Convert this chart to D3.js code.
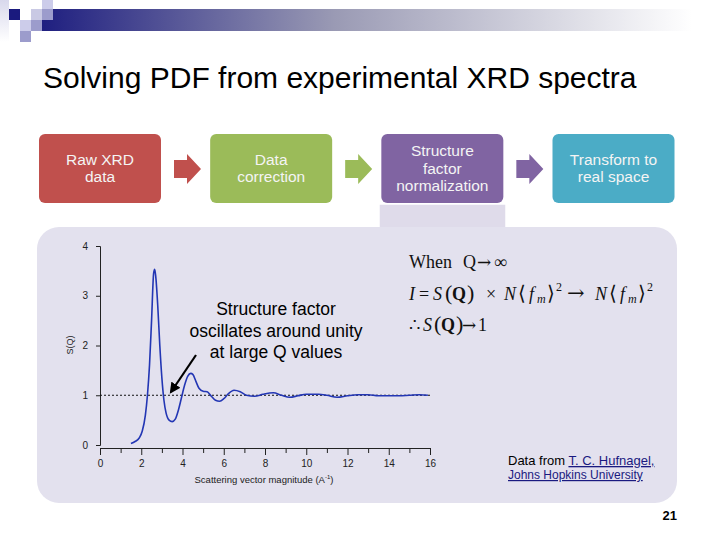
<!DOCTYPE html>
<html>
<head>
<meta charset="utf-8">
<script src="https://cdn.jsdelivr.net/npm/d3@7"></script>
<style>
  body { margin: 0; background: #fff; }
  text { font-family: Arial, "Liberation Sans", sans-serif; }
  text.serif { font-family: "Times New Roman", "Liberation Serif", serif; }
  tspan.arrow { font-family: "DejaVu Serif", serif; }
</style>
</head>
<body>
<div id="slide"></div>
<script>
// chart data
var qValues = [1.5, 1.7, 1.9, 2.05, 2.2, 2.3, 2.4, 2.5, 2.6, 2.65, 2.7, 2.8, 2.9, 3.0, 3.1, 3.2, 3.35, 3.5, 3.65, 3.8, 3.95, 4.1, 4.25, 4.4, 4.5, 4.65, 4.8, 5.0, 5.2, 5.4, 5.6, 5.8, 6.0, 6.2, 6.5, 6.8, 7.1, 7.5, 7.9, 8.4, 8.8, 9.2, 9.6, 10.0, 10.6, 11.0, 11.5, 12.0, 12.5, 13.0, 13.5, 14.0, 14.5, 15.0, 15.5, 15.9];
var sValues = [0.03, 0.07, 0.14, 0.28, 0.6, 1.0, 1.6, 2.5, 3.45, 3.53, 3.4, 2.8, 2.0, 1.35, 0.9, 0.65, 0.5, 0.47, 0.52, 0.7, 0.95, 1.2, 1.38, 1.44, 1.42, 1.28, 1.14, 1.08, 1.07, 0.98, 0.9, 0.88, 0.93, 1.02, 1.1, 1.07, 1.0, 0.98, 1.02, 1.05, 1.0, 0.96, 0.99, 1.02, 1.02, 1.0, 0.96, 0.99, 1.01, 1.01, 0.99, 0.99, 0.99, 1.0, 1.01, 1.0];
var xTicks = [0, 2, 4, 6, 8, 10, 12, 14, 16];
var yTicks = [0, 1, 2, 3, 4];

// flow boxes
var steps = [["Raw XRD", "data"], ["Data", "correction"], ["Structure", "factor", "normalization"], ["Transform to", "real space"]];
var stepColors = ["#c0504d", "#9bbb59", "#8064a2", "#4bacc6"];

var width = 720;
var height = 540;

var svg = d3.select("#slide")
  .append("svg")
  .attr("width", width)
  .attr("height", height);

var defs = svg.append("defs");
var grad = defs.append("linearGradient").attr("id", "barGrad");
grad.append("stop").attr("offset", "0%").attr("stop-color", "#1f1f80");
grad.append("stop").attr("offset", "45%").attr("stop-color", "#9a9ab4");
grad.append("stop").attr("offset", "100%").attr("stop-color", "#ffffff");

var fade = defs.append("linearGradient").attr("id", "fadeGrad")
  .attr("x1", 0).attr("x2", 0).attr("y1", 0).attr("y2", 1);
fade.append("stop").attr("offset", "0%").attr("stop-color", "#d8d8ec");
fade.append("stop").attr("offset", "100%").attr("stop-color", "#ffffff");

defs.append("marker")
  .attr("id", "head")
  .attr("viewBox", "0 0 10 10")
  .attr("refX", 8).attr("refY", 5)
  .attr("markerWidth", 5).attr("markerHeight", 5)
  .attr("orient", "auto")
  .append("path").attr("d", "M0,0 L10,5 L0,10 z").attr("fill", "#000");

// top decoration
svg.append("rect").attr("x", 42).attr("y", 9).attr("width", 650).attr("height", 22).attr("fill", "url(#barGrad)");
svg.append("rect").attr("x", 0).attr("y", 0).attr("width", 9).attr("height", 42).attr("fill", "url(#fadeGrad)");
var squares = [
  [9, 9, "#1a1a7e"], [31, 9, "#c9c9e4"], [42, 0, "#ccccea"], [42, 9, "#9c9ccc"],
  [20, 20, "#ccccea"], [31, 20, "#9c9ccc"], [20, 31, "#9c9ccc"]
];
svg.selectAll(".sq").data(squares).enter().append("rect")
  .attr("x", function(d) { return d[0]; })
  .attr("y", function(d) { return d[1]; })
  .attr("width", 11).attr("height", 11)
  .attr("fill", function(d) { return d[2]; });

// title
svg.append("text")
  .attr("x", 43).attr("y", 88)
  .attr("font-size", 30)
  .attr("fill", "#000")
  .text("Solving PDF from experimental XRD spectra");

// panel behind the chart
svg.append("rect").attr("x", 379).attr("y", 204).attr("width", 127).attr("height", 40)
  .attr("fill", "#dfdbea").attr("stroke", "#fff").attr("stroke-width", 1.5);
svg.append("rect").attr("x", 37).attr("y", 227).attr("width", 640).attr("height", 276)
  .attr("rx", 22).attr("fill", "#e3e1ee");

// flow boxes and arrows
var boxX = d3.scalePoint().domain(d3.range(steps.length)).range([100, 613.5]);
var boxW = 122;
steps.forEach(function(lines, i) {
  var cx = boxX(i);
  svg.append("rect")
    .attr("x", cx - boxW / 2).attr("y", 134)
    .attr("width", boxW).attr("height", 69)
    .attr("rx", 6)
    .attr("fill", stepColors[i]);
  var t = svg.append("text")
    .attr("text-anchor", "middle")
    .attr("font-size", 15.5)
    .attr("fill", "#f4f4f4");
  var y0 = 168.5 - (lines.length - 1) * 17.5 / 2 + 5;
  lines.forEach(function(l, j) {
    t.append("tspan").attr("x", cx).attr("y", y0 + j * 17.5).text(l);
  });
  if (i < steps.length - 1) {
    var ax = cx + boxW / 2 + 13;
    svg.append("path")
      .attr("d", "M" + ax + ",160 h13 v-6 l14,15 l-14,15 v-6 h-13 z")
      .attr("fill", stepColors[i]);
  }
});

// chart scales
var xScale = d3.scaleLinear().domain([0, 16]).range([100, 430]);
var yScale = d3.scaleLinear().domain([0, 4]).range([445, 246]);

// axes
var xAxis = d3.axisBottom(xScale).tickValues(d3.range(0, 17, 1)).tickSize(5)
  .tickFormat(function(d) { return xTicks.indexOf(d) >= 0 ? d : ""; });
var yAxis = d3.axisLeft(yScale).tickValues(yTicks).tickSize(4).tickFormat(d3.format("d"));

var gx = svg.append("g").attr("transform", "translate(0,448)").call(xAxis);
var gy = svg.append("g").attr("transform", "translate(100,0)").call(yAxis);
[gx, gy].forEach(function(g) {
  g.select(".domain").attr("stroke", "#222").attr("stroke-width", 1);
  g.selectAll(".tick line").attr("stroke", "#222");
  g.selectAll(".tick text").attr("font-size", 10).attr("fill", "#222");
});
gx.selectAll(".tick text").attr("dy", "1.1em");
gx.selectAll(".tick line").attr("y2", function(d) { return xTicks.indexOf(d) >= 0 ? 7 : 5; });
gy.selectAll(".tick text").attr("x", -12);

svg.append("text")
  .attr("transform", "translate(73,345) rotate(-90)")
  .attr("text-anchor", "middle")
  .attr("font-size", 9).attr("fill", "#222")
  .text("S(Q)");

var xl = svg.append("text")
  .attr("x", 264).attr("y", 483)
  .attr("text-anchor", "middle")
  .attr("font-size", 9.5).attr("fill", "#222");
xl.append("tspan").text("Scattering vector magnitude (A");
xl.append("tspan").attr("font-size", 6).attr("dy", -4).text("-1");
xl.append("tspan").attr("dy", 4).text(")");

// unity reference line
svg.append("line")
  .attr("x1", xScale(0)).attr("x2", xScale(16))
  .attr("y1", yScale(1)).attr("y2", yScale(1))
  .attr("stroke", "#111").attr("stroke-width", 1)
  .attr("stroke-dasharray", "2,2");

// S(Q) curve
var pts = qValues.map(function(q, i) { return [q, sValues[i]]; });
var line = d3.line()
  .x(function(d) { return xScale(d[0]); })
  .y(function(d) { return yScale(d[1]); })
  .curve(d3.curveMonotoneX);
svg.append("path")
  .datum(pts)
  .attr("d", line)
  .attr("fill", "none")
  .attr("stroke", "#2336b4")
  .attr("stroke-width", 1.6);

// annotation
var ann = svg.append("text").attr("text-anchor", "middle").attr("font-size", 17.5).attr("fill", "#000");
["Structure factor", "oscillates around unity", "at large Q values"].forEach(function(l, j) {
  ann.append("tspan").attr("x", 276).attr("y", 315 + j * 21.5).text(l);
});
svg.append("line")
  .attr("x1", 196).attr("y1", 355)
  .attr("x2", 171).attr("y2", 392)
  .attr("stroke", "#000").attr("stroke-width", 2.2)
  .attr("marker-end", "url(#head)");

// equations: [text, x, dy, size, style]
function eqLine(y, parts) {
  var t = svg.append("text").attr("class", "serif").attr("y", y)
    .attr("font-size", 18).attr("fill", "#111");
  parts.forEach(function(p) {
    var s = t.append("tspan").attr("x", p[1]).attr("y", y + (p[2] || 0)).text(p[0]);
    if (p[3]) s.attr("font-size", p[3]);
    if (p[4] === "i") s.attr("font-style", "italic");
    if (p[4] === "b") s.attr("font-weight", "bold");
    if (p[4] === "a") s.attr("class", "arrow");
  });
}
eqLine(268, [["When", 409], ["Q", 463], ["→", 477, 0, 17, "a"], ["∞", 494]]);
eqLine(300, [
  ["I", 409, 0, 0, "i"], ["=", 419], ["S", 433, 0, 0, "i"], ["(", 445, 0, 22], ["Q", 452, 0, 0, "b"], [")", 467, 0, 22],
  ["×", 486], ["N", 504, 0, 0, "i"], ["⟨", 518, 0, 20], ["f", 529, 0, 0, "i"], ["m", 537, 3, 12, "i"], ["⟩", 547, 0, 20], ["2", 556, -9, 12],
  ["→", 567, 0, 21, "a"], ["N", 595, 0, 0, "i"], ["⟨", 609, 0, 20], ["f", 620, 0, 0, "i"], ["m", 628, 3, 12, "i"], ["⟩", 638, 0, 20], ["2", 647, -9, 12]
]);
eqLine(331, [["∴", 409], ["S", 423, 0, 0, "i"], ["(", 434, 0, 22], ["Q", 441, 0, 0, "b"], [")", 456, 0, 22], ["→", 462, 0, 17, "a"], ["1", 478]]);

// source
var s1 = svg.append("text").attr("x", 508).attr("y", 465).attr("font-size", 13).attr("fill", "#000");
s1.append("tspan").text("Data from ");
s1.append("tspan").attr("fill", "#1a1a80").attr("text-decoration", "underline").text("T. C. Hufnagel,");
svg.append("text").attr("x", 508).attr("y", 479).attr("font-size", 12)
  .attr("fill", "#1a1a80").attr("text-decoration", "underline")
  .text("Johns Hopkins University");

// page number
svg.append("text").attr("x", 677).attr("y", 520).attr("text-anchor", "end")
  .attr("font-size", 13).attr("font-weight", "bold").attr("fill", "#000").text("21");
</script>
</body>
</html>
